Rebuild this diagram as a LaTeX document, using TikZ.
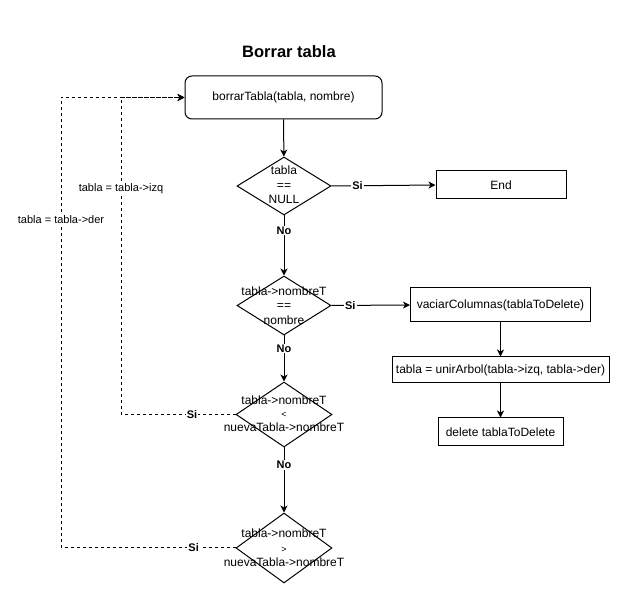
\documentclass[tikz,border=0pt]{standalone}
\usepackage{fontspec}
\setmainfont{Liberation Sans}
\usetikzlibrary{shapes.geometric,arrows.meta}
\tikzset{
  txt/.style={font=\fontsize{12}{14.5}\selectfont},
  box/.style={draw, line width=1pt, txt, inner sep=0pt, anchor=center},
  dia/.style={draw, diamond, line width=1pt, inner sep=0pt},
  dlabel/.style={txt, align=center},
  lbl/.style={fill=white, inner sep=1pt, font=\fontsize{11}{13}\selectfont},
  yn/.style={lbl, font=\bfseries\fontsize{11}{13}\selectfont},
  arr/.style={line width=1pt, -{Stealth[length=7pt,width=7pt,inset=2pt]}},
  dsh/.style={arr, dash pattern=on 3pt off 3pt}
}
\begin{document}
\begin{tikzpicture}[x=1pt,y=-1pt]
\useasboundingbox[fill=white] (0,0) rectangle (633,604);
\node[font=\bfseries\fontsize{16.5}{19}\selectfont] (title) at (289,52) {Borrar tabla};
\node[box, rounded corners=7pt, minimum width=197pt, minimum height=43pt] (start) at (283.5,97.5) {borrarTabla(tabla, nombre)};
\node[dia, minimum width=94pt, minimum height=58pt] (d1) at (284,186) {};
\node[dlabel] (t1) at (284,185) {tabla\\==\\NULL};
\node[box, minimum width=130pt, minimum height=28pt] (end) at (501,185) {End};
\node[dia, minimum width=94pt, minimum height=59pt] (d2) at (284,305.5) {};
\node[dlabel] (t2) at (284,305.5) {tabla-{}>nombreT\\==\\nombre};
\node[box, minimum width=180pt, minimum height=34pt] (vac) at (500.5,305) {vaciarColumnas(tablaToDelete)};
\node[box, minimum width=217pt, minimum height=26pt] (unir) at (500.5,370) {tabla = unirArbol(tabla-{}>izq, tabla-{}>der)};
\node[box, minimum width=125pt, minimum height=28pt] (del) at (500.5,432) {delete tablaToDelete};
\node[dia, minimum width=96pt, minimum height=65pt] (d3) at (284,414.5) {};
\node[dlabel] (t3) at (284,413.5) {tabla-{}>nombreT\\[-1pt]{\fontsize{9}{14}\selectfont <}\\[-1pt]nuevaTabla-{}>nombreT};
\node[dia, minimum width=96pt, minimum height=70pt] (d4) at (284,548) {};
\node[dlabel] (t4) at (284,548) {tabla-{}>nombreT\\{\fontsize{9}{14}\selectfont >}\\nuevaTabla-{}>nombreT};
\coordinate (xi) at (121,0);
\coordinate (xd) at (61,0);
\draw[arr] (start) -- (d1);
\draw[arr] (d1.east) -- node[yn,pos=0.25]{Si} (end.west);
\draw[arr] (d1.south) -- node[yn,pos=0.25]{No} (d2.north);
\draw[arr] (d2.east) -- node[yn,pos=0.24]{Si} (vac.west);
\draw[arr] (d2.south) -- node[yn,pos=0.28]{No} (d3.north);
\draw[arr] (d3.south) -- node[yn,pos=0.27]{No} (d4.north);
\draw[arr] (vac.south) -- (unir.north);
\draw[arr] (unir.south) -- (del.north);
\draw[dsh] (d3.west) -- node[yn,pos=0.38]{Si} (d3.west -| xi) -- node[lbl,pos=0.713]{tabla = tabla-{}>izq} (xi |- start.west) -- (start.west);
\draw[dsh] (d4.west) -- node[yn,pos=0.24]{Si} (d4.west -| xd) -- node[lbl,pos=0.73]{tabla = tabla-{}>der} (xd |- start.west) -- (start.west);
\end{tikzpicture}
\end{document}
